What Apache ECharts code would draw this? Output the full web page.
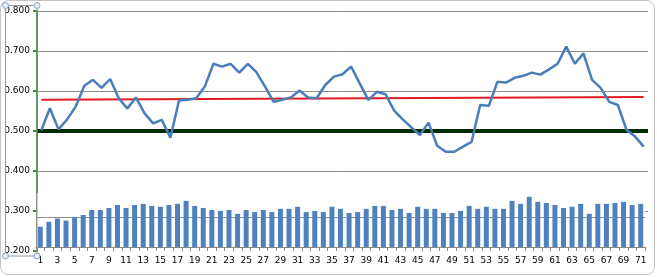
<!DOCTYPE html>
<html><head><meta charset="utf-8">
<script src="https://cdn.jsdelivr.net/npm/echarts@6/dist/echarts.min.js"></script>
<style>html,body{margin:0;padding:0;background:#fff}#c{width:657px;height:277px}</style>
</head><body><div id="c"></div>
<script>
const categories = ['1','2','3','4','5','6','7','8','9','10','11','12','13','14','15','16','17','18','19','20',
 '21','22','23','24','25','26','27','28','29','30','31','32','33','34','35','36','37','38','39','40',
 '41','42','43','44','45','46','47','48','49','50','51','52','53','54','55','56','57','58','59','60',
 '61','62','63','64','65','66','67','68','69','70','71'];

const lineValues = [0.502,0.557,0.504,0.529,0.561,0.613,0.628,0.608,0.630,0.582,
 0.556,0.584,0.544,0.519,0.528,0.483,0.576,0.578,0.582,0.611,
 0.668,0.661,0.668,0.646,0.668,0.647,0.611,0.573,0.578,0.584,
 0.601,0.584,0.582,0.615,0.636,0.642,0.661,0.619,0.578,0.598,
 0.592,0.551,0.529,0.509,0.490,0.521,0.463,0.448,0.448,0.461,
 0.473,0.565,0.563,0.623,0.621,0.633,0.638,0.646,0.641,0.654,
 0.668,0.711,0.668,0.694,0.628,0.608,0.573,0.565,0.503,0.486,0.461];

const barValues = [0.269,0.286,0.297,0.290,0.302,0.309,0.326,0.326,0.333,0.343,
 0.333,0.343,0.347,0.340,0.337,0.343,0.347,0.357,0.340,0.333,
 0.326,0.323,0.326,0.313,0.326,0.319,0.326,0.319,0.330,0.330,
 0.337,0.319,0.323,0.319,0.337,0.330,0.316,0.319,0.330,0.340,
 0.340,0.326,0.330,0.316,0.337,0.330,0.330,0.316,0.316,0.323,
 0.340,0.330,0.337,0.330,0.330,0.357,0.347,0.371,0.354,0.350,
 0.343,0.333,0.337,0.347,0.313,0.347,0.347,0.350,0.354,0.343,0.347];

const targetValue = 0.5;
const trendStartEnd = [0.578, 0.585];
const yTicks = [0.2, 0.3, 0.4, 0.5, 0.6, 0.7, 0.8];
const barAxisRange = [0.2, 0.384];

const FONT = 'DejaVu Sans';
const chart = echarts.init(document.getElementById('c'), null, {renderer: 'canvas'});

const option = {
  animation: false,
  backgroundColor: '#fff',
  grid: [
    {left: 37, right: 9, top: 11, bottom: 26},
    {left: 36, right: 12, top: 193, bottom: 30, show: true, backgroundColor: '#fff', borderWidth: 0, z: 5}
  ],
  xAxis: [
    {type: 'category', gridIndex: 0, data: categories, boundaryGap: true,
     axisLine: {show: false}, axisTick: {show: false}, axisLabel: {show: false}, splitLine: {show: false}},
    {type: 'category', gridIndex: 1, data: categories, boundaryGap: true, z: 6,
     axisLine: {show: true, lineStyle: {color: '#868686', width: 1}},
     axisTick: {show: true, length: 4, interval: 0, lineStyle: {color: '#868686'}},
     axisLabel: {interval: 1, color: '#000', fontSize: 9, fontFamily: FONT, margin: 9},
     splitLine: {show: false}}
  ],
  yAxis: [
    {type: 'value', gridIndex: 0, min: yTicks[0], max: yTicks[yTicks.length - 1], interval: 0.1,
     axisLine: {show: true, lineStyle: {color: '#2f8f2f', width: 2}},
     axisTick: {show: true, length: 4, lineStyle: {color: '#2f8f2f', width: 2}},
     axisLabel: {formatter: v => v.toFixed(3), color: '#000', fontSize: 9, fontFamily: FONT, margin: 7},
     splitLine: {show: true, showMinLine: false, lineStyle: {color: '#8c8c8c', width: 1}}},
    {type: 'value', gridIndex: 1, min: barAxisRange[0], max: barAxisRange[1], interval: 0.1, z: 6,
     axisLine: {show: true, lineStyle: {color: '#868686', width: 1}},
     axisTick: {show: false}, axisLabel: {show: false},
     splitLine: {show: true, showMinLine: false, showMaxLine: false, lineStyle: {color: '#8c8c8c', width: 1}}}
  ],
  series: [
    {type: 'bar', xAxisIndex: 1, yAxisIndex: 1, data: barValues, barWidth: 5, z: 7,
     itemStyle: {color: '#4f81bd'}, clip: true},
    {type: 'line', xAxisIndex: 0, yAxisIndex: 0, data: [], z: 3, silent: true,
     markLine: {silent: true, symbol: 'none', animation: false, z: 3, label: {show: false},
       data: [
         {yAxis: targetValue, lineStyle: {color: '#002a00', width: 4, type: 'solid'}},
         [{coord: [categories[0], trendStartEnd[0]], lineStyle: {color: '#e31b23', width: 2, type: 'solid'}},
          {coord: [categories[categories.length - 1], trendStartEnd[1]]}]
       ]}},
    {type: 'line', xAxisIndex: 0, yAxisIndex: 0, data: lineValues, z: 10, symbol: 'none',
     lineStyle: {color: '#4a7ebb', width: 2.5}, itemStyle: {color: '#4a7ebb'}}
  ],
  graphic: [
    {type: 'rect', silent: true, z: 100, shape: {x: 0.5, y: 0.5, width: 654, height: 274, r: 8},
     style: {fill: 'none', stroke: '#c4c4c4', lineWidth: 1}},
    {type: 'rect', silent: true, z: 100, shape: {x: 5.5, y: 5.5, width: 31.5, height: 250.5},
     style: {fill: 'none', stroke: '#9a9a9a', lineWidth: 1}},
    {type: 'circle', silent: true, z: 101, shape: {cx: 5.5, cy: 5.5, r: 3}, style: {fill: '#e6edf6', stroke: '#8aa4c8'}},
    {type: 'circle', silent: true, z: 101, shape: {cx: 37, cy: 5.5, r: 3}, style: {fill: '#e6edf6', stroke: '#8aa4c8'}},
    {type: 'circle', silent: true, z: 101, shape: {cx: 5.5, cy: 256, r: 3}, style: {fill: '#e6edf6', stroke: '#8aa4c8'}},
    {type: 'circle', silent: true, z: 101, shape: {cx: 37, cy: 256, r: 3}, style: {fill: '#e6edf6', stroke: '#8aa4c8'}}
  ]
};
chart.setOption(option);
</script>
</body></html>
